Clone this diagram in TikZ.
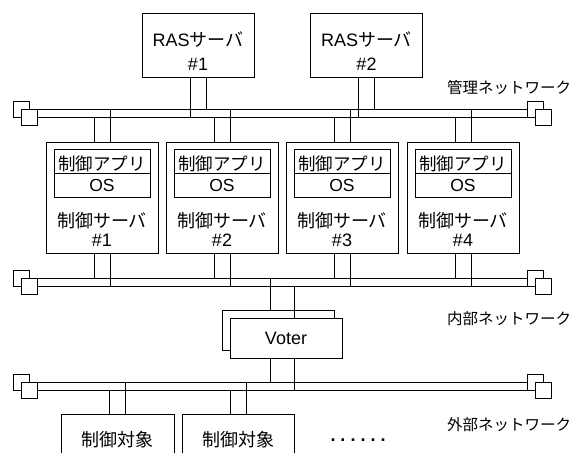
\documentclass[tikz,border=0pt]{standalone}
\usepackage{fontspec}
\setmainfont{Liberation Sans}
\newfontfamily\jp{Noto Sans CJK JP}
\newcommand\J[1]{{\jp #1}}
\newcommand\lnk[3]{\path ([xshift=#2]#1) coordinate (tmpc); \draw (tmpc) -- (tmpc |- #3);}
\newcommand\mybus[2]{%
  \coordinate (#1T) at (0,#2);
  \coordinate (#1B) at (0,#2+8);
  \node[term] (#1l1) at (21,#2) {};
  \node[term] (#1l2) at (29,#2+8) {};
  \node[term] (#1r1) at (535,#2) {};
  \node[term] (#1r2) at (543,#2+8) {};
  \draw (#1l1.east) -- (#1r1.west);
  \draw (#1l2.east) -- (#1r2.west);
}
\begin{document}
\begin{tikzpicture}[x=1pt,y=-1pt,line width=0.8pt,
  box/.style={draw,fill=white,minimum width=112pt,inner sep=0pt,align=center,
    font=\fontsize{18}{18}\selectfont},
  inbox/.style={draw,fill=white,minimum width=96pt,minimum height=24pt,inner sep=0pt,
    font=\fontsize{17.5}{18}\selectfont},
  appbox/.style={inbox,text height=19pt,text depth=1pt},
  txt/.style={align=center,inner sep=0pt},
  lbl/.style={inner sep=0pt,font=\jp\fontsize{15.5}{16}\selectfont},
  term/.style={draw,fill=white,minimum size=16pt,inner sep=0pt},
]
\useasboundingbox (0,0) rectangle (577,452);
\clip (0,0) rectangle (577,452);

% buses
\mybus{m}{109}
\mybus{i}{278}
\mybus{e}{382}

% RAS servers
\node[box,minimum height=64pt] (ras1) at (198,45) {};
\node[box,minimum height=64pt] (ras2) at (366.5,45) {};
\node[txt,font=\fontsize{18}{24}\selectfont] (ras1t) at (198,51.5) {RAS\J{サーバ}\\\#1};
\node[txt,font=\fontsize{18}{24}\selectfont] (ras2t) at (366.5,51.5) {RAS\J{サーバ}\\\#2};
\lnk{ras1.south}{-8pt}{mB}
\lnk{ras1.south}{8pt}{mT}
\lnk{ras2.south}{-8pt}{mB}
\lnk{ras2.south}{8pt}{mT}
\node[lbl] (mlbl) at (509,88) {管理ネットワーク};

% control servers
\node[box,minimum height=111pt] (c1) at (102,197.5) {};
\node[box,minimum height=111pt] (c2) at (222,197.5) {};
\node[box,minimum height=111pt] (c3) at (342,197.5) {};
\node[box,minimum height=111pt] (c4) at (463,197.5) {};
\node[appbox] (app1) at (102,161) {\J{制御アプリ}};
\node[appbox] (app2) at (222,161) {\J{制御アプリ}};
\node[appbox] (app3) at (342,161) {\J{制御アプリ}};
\node[appbox] (app4) at (463,161) {\J{制御アプリ}};
\node[inbox] (os1) at (102,185) {OS};
\node[inbox] (os2) at (222,185) {OS};
\node[inbox] (os3) at (342,185) {OS};
\node[inbox] (os4) at (463,185) {OS};
\node[txt,font=\fontsize{18}{18.5}\selectfont] (c1t) at (102,229.3) {\J{制御サーバ}\\\#1};
\node[txt,font=\fontsize{18}{18.5}\selectfont] (c2t) at (222,229.3) {\J{制御サーバ}\\\#2};
\node[txt,font=\fontsize{18}{18.5}\selectfont] (c3t) at (342,229.3) {\J{制御サーバ}\\\#3};
\node[txt,font=\fontsize{18}{18.5}\selectfont] (c4t) at (463,229.3) {\J{制御サーバ}\\\#4};
\lnk{c1.north}{-8pt}{mB}
\lnk{c1.north}{8pt}{mT}
\lnk{c2.north}{-8pt}{mB}
\lnk{c2.north}{8pt}{mT}
\lnk{c3.north}{-8pt}{mB}
\lnk{c3.north}{8pt}{mT}
\lnk{c4.north}{-8pt}{mB}
\lnk{c4.north}{8pt}{mT}
\lnk{c1.south}{-8pt}{iT}
\lnk{c1.south}{8pt}{iB}
\lnk{c2.south}{-8pt}{iT}
\lnk{c2.south}{8pt}{iB}
\lnk{c3.south}{-8pt}{iT}
\lnk{c3.south}{8pt}{iB}
\lnk{c4.south}{-8pt}{iT}
\lnk{c4.south}{8pt}{iB}
\node[lbl] (ilbl) at (509,319) {内部ネットワーク};

% voter
\node[box,minimum height=40pt] (vb) at (278,330) {};
\lnk{vb.north}{-8pt}{iT}
\node[box,minimum height=40pt] (vf) at (286,338) {Voter};
\path ([xshift=8pt]vf.north) coordinate (vfa);
\draw (vfa) -- (vfa |- iB);
\lnk{vf.south}{-16pt}{eT}
\lnk{vf.south}{8pt}{eB}
\node[lbl] (elbl) at (509,425) {外部ネットワーク};

% controlled objects
\node[box,minimum width=113pt,minimum height=52pt] (t1) at (117.5,440) {\J{制御対象}};
\node[box,minimum height=52pt] (t2) at (238,440) {\J{制御対象}};
\lnk{t1.north}{-8pt}{eB}
\lnk{t1.north}{8pt}{eT}
\lnk{t2.north}{-8pt}{eB}
\lnk{t2.north}{8pt}{eT}
\node[inner sep=0pt,anchor=base,font=\fontsize{18}{18}\selectfont\bfseries] (dots) at (358,441)
  {.\kern5pt.\kern5pt.\kern5pt.\kern5pt.\kern5pt.};
\end{tikzpicture}
\end{document}
